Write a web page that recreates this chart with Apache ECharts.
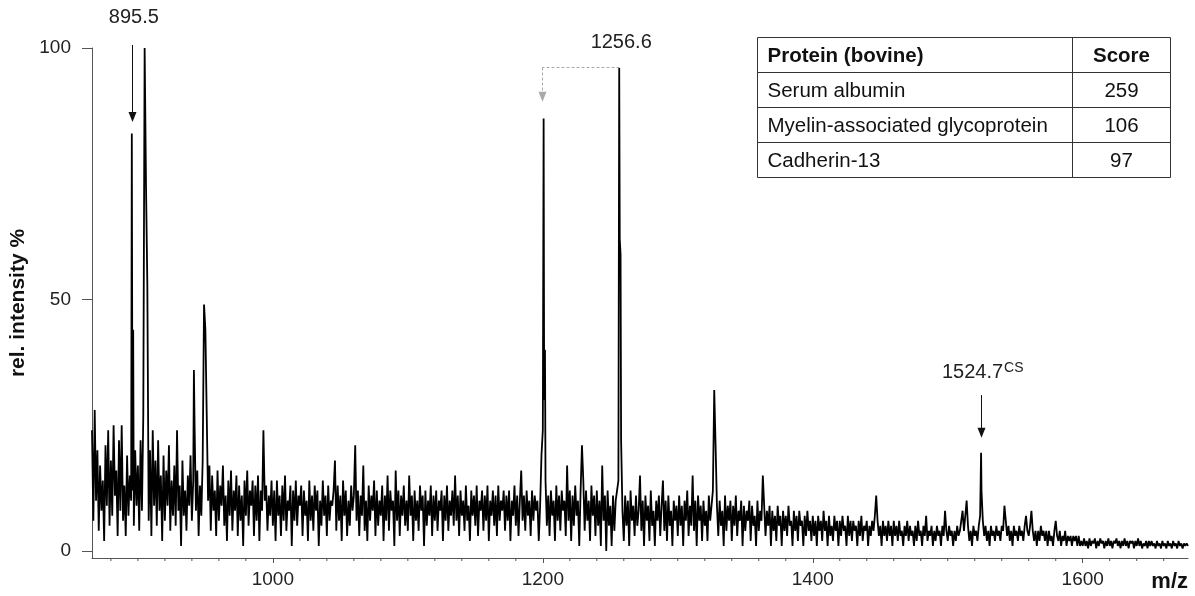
<!DOCTYPE html>
<html>
<head>
<meta charset="utf-8">
<script src="https://cdn.jsdelivr.net/npm/echarts@6/dist/echarts.min.js"></script>
<style>
  html, body { margin: 0; padding: 0; background: #fff; }
  #chart { width: 1195px; height: 596px; }
</style>
</head>
<body>
<div id="chart"></div>
<script>
// MALDI-TOF spectrum: relative intensity (%) sampled every 1 m/z, in blocks
const noise0866 = [ // m/z 866 - 999
  24,6,28,10,20,4,17,8,14,2,21,9,24,5,18,7,25,11,16,3,22,8,25,6,13,3,19,7,15,10,12,5,20,9,
  17,4,22,8,27,30,30,28,6,20,
  3,24,9,18,5,22,8,15,2,19,
  6,16,9,21,4,14,7,17,5,24,
  8,13,1,18,7,12,4,15,9,19,
  6,14,25,8,16,3,13,7,18,20,
  44,27,10,17,4,15,8,12,3,16,
  6,13,9,17,5,11,2,14,7,16,
  4,12,8,15,3,13,6,11,1,14,
  7,16,5,12,9,14,3,13,6,15,
  2,12,8,24,10,13,4,11,7,14
];
const noise1000 = [ // m/z 1000 - 1099
  5,12,2,14,7,11,3,13,6,15,
  4,10,8,13,1,12,6,14,5,11,
  9,13,3,12,7,10,2,14,6,11,
  4,13,8,12,1,10,5,14,7,11,
  3,13,6,10,9,12,18,4,13,6,
  11,2,14,7,12,3,10,5,13,8,
  11,21,6,12,3,11,7,17,4,10,
  2,13,6,11,8,14,3,12,5,10,
  7,13,2,11,6,15,4,12,8,10,
  1,16,6,12,3,11,7,13,5,10
];
const noise1100 = [ // m/z 1100 - 1199
  4,15,7,11,2,12,6,10,4,13,
  8,11,1,12,5,10,7,13,3,11,
  6,12,4,10,8,12,2,11,6,13,
  4,10,7,12,5,15,6,11,3,12,
  7,10,4,13,6,9,2,12,7,11,
  5,13,3,10,8,12,4,11,6,13,
  2,10,7,12,5,11,3,13,6,10,
  8,12,4,11,6,12,2,10,7,13,
  5,11,3,10,16,6,11,4,12,7,
  10,3,12,6,11,8,10,2,9,19
];
const noise1200 = [ // m/z 1200 - 1299
  24,30,14,5,11,3,12,7,10,2,
  13,6,11,4,12,8,10,3,17,6,
  12,2,11,5,13,7,10,1,12,21,
  14,4,12,6,10,2,13,7,11,3,
  12,5,10,1,17,6,11,0,12,5,
  9,1,11,4,10,12,14,62,22,8,
  2,11,5,10,1,12,6,9,3,11,
  5,8,15,4,10,1,11,6,9,2,
  12,5,8,1,10,6,11,3,9,14,
  4,10,2,11,5,8,1,10,6,9
];
const noise1300 = [ // m/z 1300 - 1399
  3,11,5,9,1,10,6,12,3,9,
  5,15,4,10,1,11,6,9,2,10,
  5,8,2,11,6,9,12,20,21,9,
  3,10,5,8,1,11,4,9,6,10,
  2,9,5,11,3,8,6,10,1,9,
  4,8,6,10,2,9,5,7,1,10,
  4,8,6,15,9,3,8,5,9,1,
  8,4,7,2,9,5,7,1,8,4,
  7,3,9,5,6,1,8,4,7,2,
  8,5,6,1,7,3,8,4,6,2
];
const noise1400 = [ // m/z 1400 - 1499
  7,3,6,1,7,4,6,2,8,4,
  6,1,7,3,5,2,7,4,6,1,
  6,3,7,4,5,1,7,3,6,2,
  6,4,5,1,6,3,7,2,5,4,
  6,1,5,3,6,4,7,11,6,3,
  5,1,6,3,5,2,6,3,5,1,
  6,3,5,2,6,3,4,1,5,3,
  6,2,5,3,4,1,5,2,6,3,
  4,1,5,3,7,2,4,3,5,1,
  4,2,5,3,4,1,5,3,8,4
];
const noise1500 = [ // m/z 1500 - 1599
  2,5,3,4,1,4,2,5,3,4,
  6,8,4,7,10,5,2,4,1,5,
  3,4,2,5,7,12,6,3,5,2,
  4,1,5,3,4,2,5,3,4,2,
  5,4,9,6,3,5,2,4,1,5,
  3,4,2,5,3,4,2,5,7,4,
  3,5,8,4,2,4,1,4,2,5,
  3,4,2,4,1,4,2,3,1,4,
  6,3,2,4,1,3,2,4,1,3,
  2,3,1,3,2,3,1,3,1,2
];
const noise1600 = [ // m/z 1600 - 1678
  1,2.5,1,2,0.5,2.5,1,2,1.5,2.5,
  0.5,2,1,2.5,1.5,2,0.5,2,1,2.5,
  1,2,0.5,2,1.5,2.5,1,2,0.5,2,
  1,2.5,1,2,0.5,2,1.5,2,0.5,2,
  1,2.5,1,2,0.5,1.5,1,2,0.5,2,
  1,2,1,1.5,0.5,2,1,1.5,0.5,2,
  1,1.5,0.5,2,1,1.5,0.5,2,1,1.5,
  0.5,2,1,1.5,0.5,1.5,1,1.5,1
];

// resolved peaks [m/z, rel. intensity %]
const peaks = [
  [895.5, 83], [896.5, 44], [905, 100], [906, 73], [907, 53],
  [941.5, 36], [949, 49], [1200.6, 86], [1201.6, 40],
  [1256.6, 96], [1257.6, 59], [1327, 32], [1524.7, 19.5]
];

// axis ticks
const xMajorTicks = [1000, 1200, 1400, 1600];
const xMinorTicks = [880, 900, 920, 940, 960, 980, 1020, 1040, 1060, 1080, 1100, 1120, 1140,
  1160, 1180, 1220, 1240, 1260, 1280, 1300, 1320, 1340, 1360, 1380, 1420, 1440, 1460, 1480,
  1500, 1520, 1540, 1560, 1580, 1620, 1640, 1660];
const yTicks = [0, 50, 100];
const X_MIN = 866, X_MAX = 1678, Y_MIN = -1.4, Y_MAX = 100;

// annotation table
const tableHeader = ['Protein (bovine)', 'Score'];
const proteins = ['Serum albumin', 'Myelin-associated glycoprotein', 'Cadherin-13'];
const scores = ['259', '106', '97'];

// merge the sampled trace with the peak apices
const blocks = [[866, noise0866], [1000, noise1000], [1100, noise1100], [1200, noise1200],
  [1300, noise1300], [1400, noise1400], [1500, noise1500], [1600, noise1600]];
const byMz = new Map();
blocks.forEach(([start, vals]) => vals.forEach((v, i) => byMz.set(start + i, v)));
peaks.forEach(([mz, v]) => byMz.set(mz, Math.max(v, byMz.has(mz) ? byMz.get(mz) : 0)));
const spectrum = Array.from(byMz.entries()).sort((a, b) => a[0] - b[0]);

const FONT = '"Liberation Sans", Arial, Helvetica, sans-serif';
const AXIS = '#555';

const chart = echarts.init(document.getElementById('chart'), null, { renderer: 'canvas' });

chart.setOption({
  animation: false,
  backgroundColor: '#fff',
  grid: { left: 92, right: 7, top: 48, bottom: 38, containLabel: false, outerBoundsMode: 'none' },
  xAxis: {
    type: 'value', min: X_MIN, max: X_MAX,
    axisLine: { show: true, onZero: false, lineStyle: { color: AXIS, width: 1 } },
    axisTick: { show: true, customValues: xMajorTicks, length: 5, lineStyle: { color: AXIS } },
    axisLabel: { customValues: xMajorTicks, formatter: v => String(v), fontSize: 19, color: '#222',
      fontFamily: FONT, margin: 12 },
    splitLine: { show: false }
  },
  yAxis: {
    type: 'value', min: Y_MIN, max: Y_MAX,
    name: 'rel. intensity %', nameLocation: 'middle', nameGap: 52,
    nameTextStyle: { fontSize: 21, fontWeight: 'bold', color: '#111', fontFamily: FONT },
    axisLine: { show: true, onZero: false, lineStyle: { color: AXIS, width: 1 } },
    axisTick: { show: true, customValues: yTicks, length: 10, lineStyle: { color: AXIS } },
    axisLabel: { customValues: yTicks, formatter: v => String(v), fontSize: 19, color: '#222',
      fontFamily: FONT, margin: 21 },
    splitLine: { show: false }
  },
  series: [
    {
      type: 'line', data: spectrum, showSymbol: false, symbol: 'none',
      lineStyle: { color: '#000', width: 1.8 }, silent: true, z: 3
    },
    {
      // minor ticks every 20 m/z along the bottom axis
      type: 'custom', data: xMinorTicks.map(v => [v, Y_MIN]), silent: true,
      encode: { x: 0, y: 1 },
      renderItem: (params, api) => {
        const p = api.coord([api.value(0), api.value(1)]);
        return { type: 'line', shape: { x1: p[0], y1: p[1], x2: p[0], y2: p[1] + 3 },
          style: { stroke: AXIS, lineWidth: 1 } };
      }
    }
  ]
});

// annotations anchored to data coordinates
const px = (x, y) => chart.convertToPixel({ gridIndex: 0 }, [x, y]);
const g = [];
function arrowDown(mz, yTop, yTip, color) {
  const a = px(mz, yTop), b = px(mz, yTip);
  const x = Math.round(a[0]) + 0.5;
  g.push({ type: 'line', shape: { x1: x, y1: a[1], x2: x, y2: b[1] - 9 },
    style: { stroke: color, lineWidth: 1 }, z: 10 });
  g.push({ type: 'polygon', shape: { points: [[x - 4, b[1] - 10], [x + 4, b[1] - 10], [x, b[1]]] },
    style: { fill: color }, z: 10 });
}
function label(mz, y, text, opts) {
  const p = px(mz, y);
  g.push({ type: 'text', x: p[0] + (opts && opts.dx || 0), y: p[1], z: 10,
    style: Object.assign({ text, fontSize: 20, fontFamily: FONT, fill: '#222',
      align: 'center', verticalAlign: 'middle' }, opts && opts.style) });
}

// 895.5
label(895.5, 106, '895.5', { dx: 2 });
arrowDown(895.5, 100.6, 85.3, '#111');

// 1256.6 with dashed bracket to 1200.6
label(1256.6, 101, '1256.6', { dx: 2 });
{
  const a = px(1256.6, 96.2), b = px(1200.6, 96.2);
  const xa = Math.round(a[0]) + 0.5, xb = Math.round(b[0]) - 1.5, y = Math.round(a[1]) + 0.5;
  g.push({ type: 'polyline', shape: { points: [[xa, y], [xb, y]] },
    style: { stroke: '#aaa', lineWidth: 1, lineDash: [3, 2] }, z: 10 });
  const tip = px(1200.6, 89.3);
  g.push({ type: 'line', shape: { x1: xb, y1: y, x2: xb, y2: tip[1] - 9 },
    style: { stroke: '#aaa', lineWidth: 1, lineDash: [3, 2] }, z: 10 });
  g.push({ type: 'polygon', shape: { points: [[xb - 4, tip[1] - 10], [xb + 4, tip[1] - 10], [xb, tip[1]]] },
    style: { fill: '#aaa' }, z: 10 });
}

// 1524.7 (CS)
label(1524.7, 35.4, '1524.7', { dx: 22, style: { align: 'right' } });
label(1524.7, 36.3, 'CS', { dx: 23, style: { align: 'left', fontSize: 14 } });
arrowDown(1524.7, 31, 22.5, '#111');

// protein table
const T = { x: 757.5, y: 37.5, w: 413, colX: 1072.5, rowH: 35 };
const rows = [tableHeader].concat(proteins.map((p, i) => [p, scores[i]]));
g.push({ type: 'rect', shape: { x: T.x, y: T.y, width: T.w, height: T.rowH * rows.length },
  style: { fill: '#fff', stroke: '#333', lineWidth: 1 }, z: 5 });
g.push({ type: 'line', shape: { x1: T.colX, y1: T.y, x2: T.colX, y2: T.y + T.rowH * rows.length },
  style: { stroke: '#333', lineWidth: 1 }, z: 6 });
rows.forEach((r, i) => {
  if (i > 0) g.push({ type: 'line', shape: { x1: T.x, y1: T.y + i * T.rowH, x2: T.x + T.w, y2: T.y + i * T.rowH },
    style: { stroke: '#333', lineWidth: 1 }, z: 6 });
  const cy = T.y + i * T.rowH + T.rowH / 2 + 1;
  const bold = i === 0 ? 'bold' : 'normal';
  g.push({ type: 'text', x: T.x + 10, y: cy, z: 7,
    style: { text: r[0], fontSize: 20.5, fontWeight: bold, fontFamily: FONT, fill: '#111', align: 'left', verticalAlign: 'middle' } });
  g.push({ type: 'text', x: (T.colX + T.x + T.w) / 2, y: cy, z: 7,
    style: { text: r[1], fontSize: 20.5, fontWeight: bold, fontFamily: FONT, fill: '#111', align: 'center', verticalAlign: 'middle' } });
});

// x axis title
g.push({ type: 'text', x: 1188, y: 582, z: 7,
  style: { text: 'm/z', fontSize: 22, fontWeight: 'bold', fontFamily: FONT, fill: '#111', align: 'right', verticalAlign: 'middle' } });

chart.setOption({ graphic: g });
</script>
</body>
</html>
